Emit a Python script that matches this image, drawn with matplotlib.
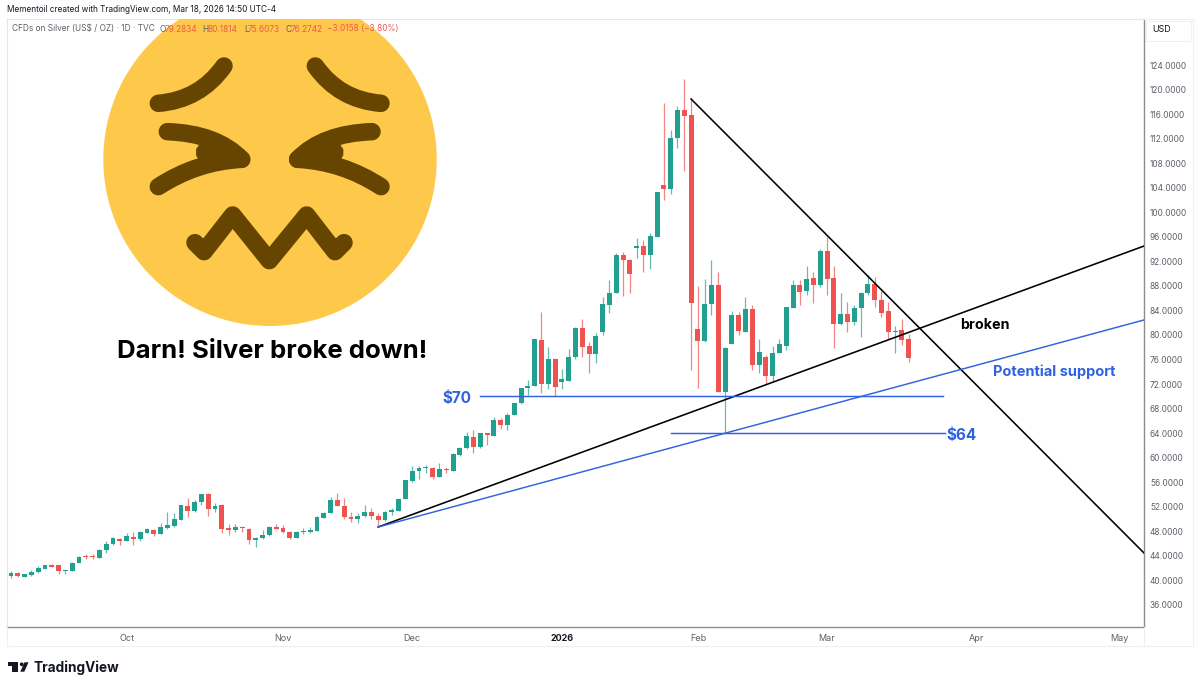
import numpy as np
import matplotlib
matplotlib.use("Agg")
import matplotlib.pyplot as plt
from matplotlib.patches import Circle, PathPatch, Polygon, Rectangle
from matplotlib.path import Path

plt.rcParams['font.family'] = ['Inter', 'DejaVu Sans']

# daily candles
opens = [40.78, 41.21, 40.62, 40.94, 41.32, 41.92, 42.57, 42.46, 41.49, 41.60, 42.84, 43.99, 43.93, 43.71, 44.91, 45.89,
         46.76, 46.43, 47.14, 46.76, 47.79, 48.28, 47.62, 48.55, 48.82, 49.91, 52.19, 51.26, 52.79, 54.14, 51.70, 52.35,
         48.49, 48.22, 48.77, 48.33, 46.65, 46.86, 47.35, 48.71, 48.49, 47.95, 46.97, 47.90, 47.84, 48.11, 50.23, 50.99,
         53.11, 52.19, 50.40, 50.01, 50.45, 51.21, 50.56, 49.85, 51.21, 51.37,
         53.30, 56.27, 57.79, 58.39, 58.39, 56.92, 58.17, 57.84, 60.45, 61.59, 63.44, 61.70, 63.98, 63.60, 66.15, 65.29, 66.97, 68.87,
         71.37, 71.70, 79.19, 72.02, 76.15, 72.29, 72.56, 76.47, 81.15, 78.27, 76.86, 80.49, 84.95, 86.90, 93.04, 92.28,
         94.24, 94.51, 92.99, 96.03, 104.45, 103.74, 112.05, 116.67, 115.86, 80.98, 78.97, 85.06,
         88.15, 70.77, 78.53, 83.31, 80.54, 84.18, 75.17, 76.47, 73.32, 77.07, 78.26, 84.45, 88.20, 87.12, 89.23, 88.15,
         93.74, 89.23, 81.85, 83.42, 82.12, 84.34, 86.79, 88.26, 85.70, 83.86, 80.43, 80.81, 79.28]
highs = [41.54, 41.32, 41.05, 41.65, 42.30, 42.57, 42.74, 42.52, 41.76, 43.01, 43.99, 44.31, 44.26, 45.13, 46.48, 47.03,
         46.97, 47.68, 47.95, 48.00, 48.49, 48.44, 49.36, 51.10, 50.99, 52.30, 53.44, 53.11, 54.14, 54.31, 52.57, 52.40,
         49.15, 49.25, 48.87, 48.49, 47.14, 48.28, 48.82, 49.15, 48.98, 48.00, 48.00, 48.60, 48.66, 50.50, 51.10, 53.55,
         54.20, 53.44, 51.10, 51.05, 52.30, 51.75, 50.99, 51.32, 51.75, 53.33,
         56.38, 58.71, 58.71, 58.82, 58.44, 59.09, 58.55, 60.72, 61.81, 64.15, 64.53, 64.09, 64.04, 66.70, 66.43, 67.35, 68.98, 71.42,
         72.67, 79.35, 83.70, 78.00, 76.26, 74.41, 77.78, 81.36, 82.67, 78.92, 80.28, 86.20, 88.97, 93.37, 93.59, 92.34,
         95.87, 95.49, 96.57, 103.31, 117.76, 113.47, 117.38, 121.67, 118.57, 87.94, 89.13, 92.23,
         90.32, 78.00, 83.97, 83.80, 86.25, 84.83, 79.29, 76.74, 78.21, 79.35, 84.56, 88.96, 88.96, 91.24, 90.32, 93.96,
         96.02, 91.24, 86.79, 85.43, 84.89, 87.06, 89.78, 89.40, 87.22, 85.32, 81.52, 82.55, 80.18]
lows = [40.45, 40.62, 40.51, 40.73, 41.27, 41.87, 42.19, 41.00, 41.11, 41.54, 42.79, 43.50, 43.55, 43.66, 44.53, 45.83,
        45.72, 46.38, 45.83, 46.48, 47.73, 47.24, 47.57, 48.44, 48.77, 49.85, 50.34, 51.21, 52.35, 50.56, 51.21, 47.79,
        47.46, 47.84, 47.90, 46.00, 45.51, 46.81, 47.30, 48.33, 47.79, 46.76, 46.86, 47.57, 47.79, 48.06, 50.18, 50.94,
        52.08, 50.01, 49.47, 49.42, 50.40, 50.07, 48.66, 49.74, 50.61, 51.32,
        53.20, 56.11, 56.54, 57.46, 56.49, 56.87, 57.46, 57.79, 60.34, 61.37, 60.83, 61.54, 62.08, 63.55, 64.63, 64.53, 66.91, 68.82,
        70.23, 71.64, 70.50, 71.15, 70.06, 71.20, 72.51, 76.04, 76.37, 73.76, 75.50, 80.01, 83.54, 86.85, 86.42, 86.80,
        92.61, 90.33, 90.82, 96.03, 102.00, 102.98, 110.48, 106.79, 74.30, 71.31, 78.92, 83.21,
        70.71, 63.98, 78.48, 79.95, 80.49, 74.30, 73.86, 71.96, 72.39, 77.01, 77.56, 84.40, 84.89, 86.52, 85.27, 87.88,
        86.52, 77.94, 81.57, 80.54, 81.63, 79.62, 86.57, 84.51, 82.99, 79.29, 77.01, 78.32, 75.61]
closes = [41.27, 40.73, 41.00, 41.38, 41.98, 42.52, 42.25, 41.49, 41.65, 42.90, 43.88, 43.88, 43.82, 45.02, 45.94, 46.86,
          46.43, 47.19, 46.76, 47.84, 48.39, 47.62, 48.71, 49.04, 49.96, 52.24, 51.26, 52.84, 54.03, 51.70, 52.19, 48.44,
          48.17, 48.77, 48.49, 46.65, 46.92, 47.41, 48.71, 48.44, 47.90, 46.97, 47.84, 48.00, 48.17, 50.40, 51.05, 53.11,
          52.13, 50.40, 50.01, 50.50, 51.21, 50.50, 49.80, 51.21, 51.43, 53.22,
          56.32, 57.79, 58.39, 58.55, 56.87, 58.12, 58.01, 60.61, 61.59, 63.55, 61.81, 63.98, 63.66, 66.15, 65.29, 67.02, 68.92, 71.37,
          71.75, 79.30, 72.02, 76.15, 71.48, 72.78, 76.47, 81.09, 78.10, 76.86, 79.90, 85.00, 86.90, 93.10, 92.23, 89.95,
          94.56, 92.99, 96.14, 103.31, 103.74, 112.11, 116.62, 115.69, 85.17, 79.08, 85.00, 88.15,
          70.77, 77.94, 83.26, 80.65, 84.18, 75.06, 77.23, 73.32, 77.12, 78.48, 84.56, 88.15, 86.95, 89.13, 88.09, 93.74,
          89.13, 81.85, 83.42, 82.12, 84.40, 86.90, 88.26, 85.65, 83.64, 80.43, 80.60, 79.18, 76.27]

# drawn lines: bar index and price
up_x = [54, 166.6]
up_y = [48.71, 94.5]
down_x = [100, 166.6]
down_y = [118.46, 44.47]
support_x = [54, 166.6]
support_y = [48.71, 82.45]

price_ticks = np.arange(36, 125, 4)
month_pos = [17, 40, 59, 81, 101, 120, 142, 163]
month_labels = ['Oct', 'Nov', 'Dec', '2026', 'Feb', 'Mar', 'Apr', 'May']

GREEN = '#22a08f'
RED = '#ef5350'
BLUE = '#2f62e0'
GRAY = '#5d6069'
BROWN = '#664500'

W, H = 1200, 688
fig = plt.figure(figsize=(12, 6.88), dpi=100, facecolor='white')

# main pane
ax = fig.add_axes([7 / W, 1 - 627 / H, (1144 - 7) / W, (627 - 19) / H])
ax.set_xlim(-0.59, 166.6)
ax.set_ylim(32.41, 131.5)

x = np.arange(len(opens))
opens_a = np.array(opens)
closes_a = np.array(closes)
cols = [GREEN if c >= o else RED for o, c in zip(opens, closes)]
ax.vlines(x, lows, highs, colors=cols, lw=0.9, alpha=0.7, zorder=2)
ax.bar(x, np.maximum(np.abs(closes_a - opens_a), 0.12), bottom=np.minimum(opens_a, closes_a),
       width=0.72, color=cols, lw=0, zorder=3)

ax.plot(up_x, up_y, color='black', lw=1.15, zorder=4)
ax.plot(down_x, down_y, color='black', lw=1.15, zorder=4)
ax.plot(support_x, support_y, color=BLUE, lw=1.05, zorder=5)
ax.plot([69, 137], [70, 70], color=BLUE, lw=1.05, zorder=5)
ax.plot([97, 137.4], [64, 64], color=BLUE, lw=1.05, zorder=5)

ax.text(65.5, 69.7, '$70', color=BLUE, fontsize=11, fontweight='bold', ha='center', va='center', zorder=6)
ax.text(137.6, 63.7, '$64', color=BLUE, fontsize=11, fontweight='bold', ha='left', va='center', zorder=6)
ax.text(153.4, 74.0, 'Potential support', color=BLUE, fontsize=10.5, fontweight='bold', ha='center', va='center', zorder=6)
ax.text(143.2, 81.6, 'broken', color='black', fontsize=10.3, fontweight='bold', ha='center', va='center', zorder=6)

ax.yaxis.tick_right()
ax.set_yticks(price_ticks)
ax.set_yticklabels(['%.4f' % v for v in price_ticks])
ax.tick_params(axis='y', length=0, pad=4.3, labelsize=6.0, labelcolor=GRAY)
ax.set_xticks(month_pos)
ax.set_xticklabels(month_labels)
ax.tick_params(axis='x', length=0, pad=5, labelsize=6.5, labelcolor=GRAY)
ax.get_xticklabels()[3].set_fontweight('bold')
ax.get_xticklabels()[3].set_color('#131722')
for side in ['left', 'top']:
    ax.spines[side].set_color('#e6e6e6')
    ax.spines[side].set_linewidth(0.8)
for side in ['right', 'bottom']:
    ax.spines[side].set_color('#8a8d92')
    ax.spines[side].set_linewidth(1.0)

# overlay in picture pixels for everything around the chart
ov = fig.add_axes([0, 0, 1, 1], facecolor='none')
ov.set_xlim(0, W)
ov.set_ylim(H, 0)
ov.axis('off')


def zx(v):
    return 100 + v / 3


def zy(v):
    return 20 + v / 3


def stroke(pts, codes=None, lw=12.6):
    verts = [(zx(a), zy(b)) for a, b in pts]
    p = Path(verts, codes) if codes else Path(verts)
    ov.add_patch(PathPatch(p, fc='none', ec=BROWN, lw=lw, capstyle='round', joinstyle='round', zorder=3))


# emoji, cut off at the top of the pane
ov.add_patch(Circle((270, 159.3), 166.7, fc='#fec84b', ec='none', zorder=2))
ov.add_patch(Rectangle((90, -2), 360, 21, fc='white', ec='none', zorder=2.5))
Q = [Path.MOVETO, Path.CURVE3, Path.CURVE3]
for m in [lambda v: v, lambda v: 1018 - v]:
    stroke([(m(372), 138), (m(300), 240), (m(175), 250)], Q)
    stroke([(m(202), 335), (m(350), 340), (m(425), 418)], Q)
    stroke([(m(175), 500), (m(290), 425), (m(425), 418)], Q)
    notch = [(300, 372), (289, 388), (289, 405), (300, 425), (425, 432), (425, 405)]
    ov.add_patch(Polygon([(zx(m(a)), zy(b)) for a, b in notch], fc=BROWN, ec=BROWN, lw=0.5, zorder=3))
stroke([(285, 668), (312, 695), (398, 585), (508, 722), (620, 585), (705, 695), (732, 668)])

ov.text(272, 352, 'Darn! Silver broke down!', color='black', fontsize=18.5, fontweight='bold',
        ha='center', va='center', zorder=6)

# header
ov.text(7, 10, 'Mementoil created with TradingView.com, Mar 18, 2026 14:50 UTC-4', color='#131722',
        fontsize=5.9, ha='left', va='center', zorder=6)
ov.text(12, 29, 'CFDs on Silver (US$ / OZ) \u00b7 1D \u00b7 TVC', color=GRAY, fontsize=5.95, ha='left', va='center', zorder=6)
for px, lab in [(159, 'O'), (202, 'H'), (244, 'L'), (285, 'C')]:
    ov.text(px, 29, lab, color=GRAY, fontsize=5.95, ha='left', va='center', zorder=6)
for px, lab in [(165, '79.2834'), (208, '80.1814'), (248, '75.6073'), (291, '76.2742'), (327, '\u22123.0158 (\u22123.80%)')]:
    ov.text(px, 29, lab, color='#f0574f', fontsize=5.95, ha='left', va='center', zorder=6)

# USD box and outer frame
ov.plot([7, 1193], [646, 646], color='#efefef', lw=0.8, zorder=1)
ov.plot([7, 7], [627, 646], color='#efefef', lw=0.8, zorder=1)
ov.plot([1144, 1193], [19, 19], color='#efefef', lw=0.8, zorder=1)
ov.plot([1193, 1193], [19, 646], color='#efefef', lw=0.8, zorder=1)
ov.plot([1144, 1144], [627, 646], color='#efefef', lw=0.8, zorder=1)
ov.add_patch(Rectangle((1146, 21), 45, 20, fc='white', ec='#eeeeee', lw=0.6, zorder=4))
ov.text(1152, 30, 'USD', color='#131722', fontsize=6.4, ha='left', va='center', zorder=6)

# TradingView mark
ov.add_patch(Polygon([(8.3, 662.3), (18.3, 662.3), (18.3, 671.7), (12.3, 671.7), (12.3, 666), (8.3, 666)], fc='#131722', ec='none'))
ov.add_patch(Circle((21.7, 664.3), 1.9, fc='#131722', ec='none'))
ov.add_patch(Polygon([(24.5, 662.3), (28.5, 662.3), (24.3, 671.7), (20.3, 671.7)], fc='#131722', ec='none'))
ov.text(33, 667.5, 'TradingView', color='#131722', fontsize=9.8, fontweight='bold', ha='left', va='center')

fig.savefig('out.png', dpi=100)
